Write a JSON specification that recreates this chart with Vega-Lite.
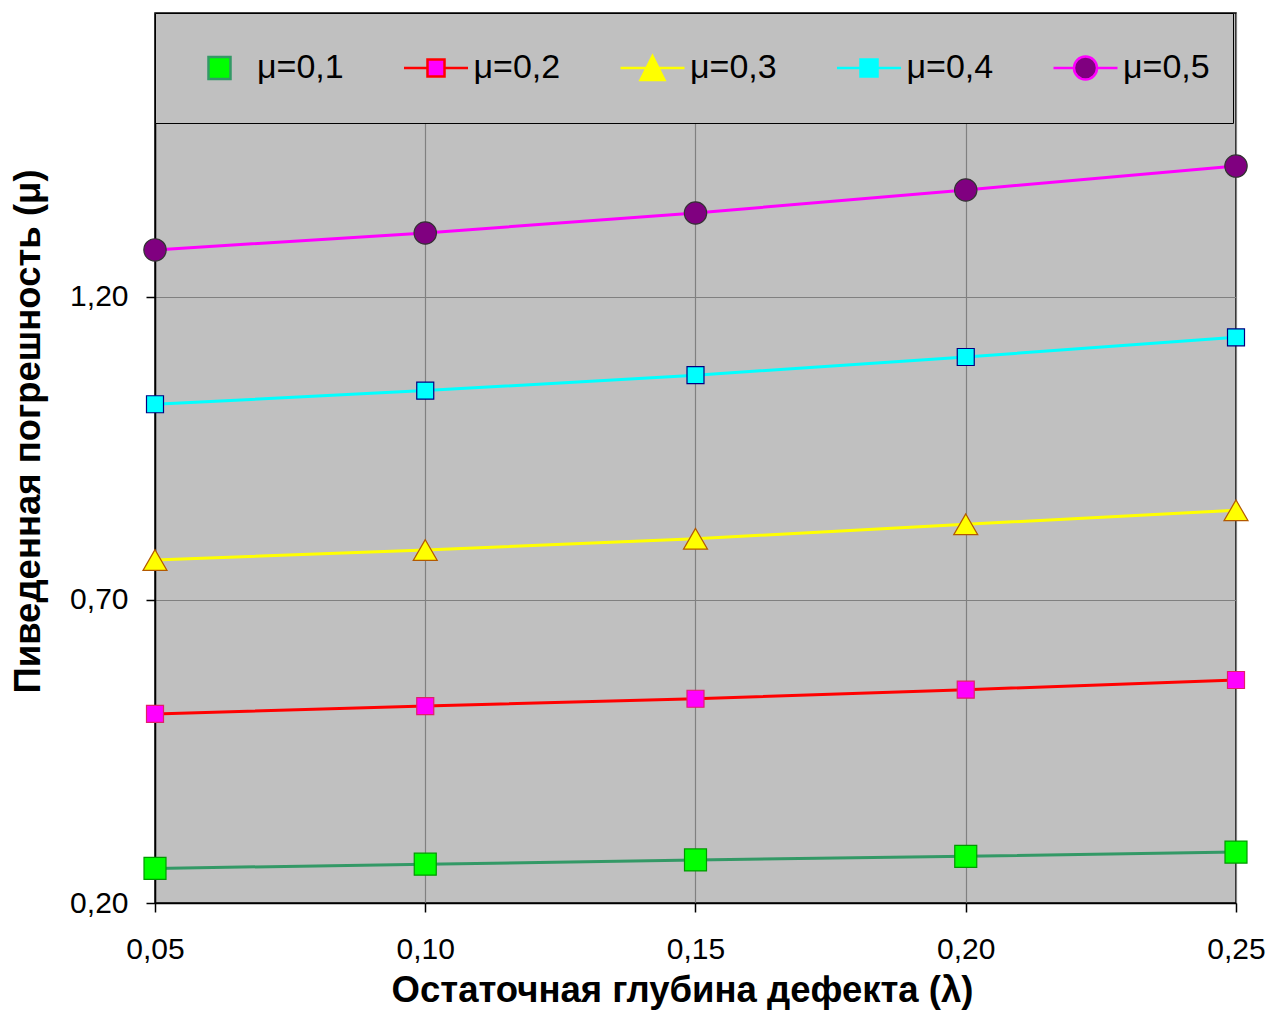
{
  "$schema": "https://vega.github.io/schema/vega-lite/v6.json",
  "width": 1081,
  "height": 890,
  "autosize": "none",
  "padding": {"left": 155, "top": 13, "right": 32, "bottom": 109},
  "background": "white",
  "config": {
    "font": "Liberation Sans",
    "view": {"fill": "#c0c0c0", "stroke": "black", "strokeWidth": 1.5}
  },
  "data": {
    "values": [
      {"lambda": 0.05, "mu": 0.257, "series": "μ=0,1"},
      {"lambda": 0.10, "mu": 0.264, "series": "μ=0,1"},
      {"lambda": 0.15, "mu": 0.271, "series": "μ=0,1"},
      {"lambda": 0.20, "mu": 0.277, "series": "μ=0,1"},
      {"lambda": 0.25, "mu": 0.284, "series": "μ=0,1"},
      {"lambda": 0.05, "mu": 0.512, "series": "μ=0,2"},
      {"lambda": 0.10, "mu": 0.525, "series": "μ=0,2"},
      {"lambda": 0.15, "mu": 0.537, "series": "μ=0,2"},
      {"lambda": 0.20, "mu": 0.552, "series": "μ=0,2"},
      {"lambda": 0.25, "mu": 0.568, "series": "μ=0,2"},
      {"lambda": 0.05, "mu": 0.766, "series": "μ=0,3"},
      {"lambda": 0.10, "mu": 0.7825, "series": "μ=0,3"},
      {"lambda": 0.15, "mu": 0.801, "series": "μ=0,3"},
      {"lambda": 0.20, "mu": 0.825, "series": "μ=0,3"},
      {"lambda": 0.25, "mu": 0.848, "series": "μ=0,3"},
      {"lambda": 0.05, "mu": 1.023, "series": "μ=0,4"},
      {"lambda": 0.10, "mu": 1.0455, "series": "μ=0,4"},
      {"lambda": 0.15, "mu": 1.071, "series": "μ=0,4"},
      {"lambda": 0.20, "mu": 1.101, "series": "μ=0,4"},
      {"lambda": 0.25, "mu": 1.1335, "series": "μ=0,4"},
      {"lambda": 0.05, "mu": 1.2776, "series": "μ=0,5"},
      {"lambda": 0.10, "mu": 1.3056, "series": "μ=0,5"},
      {"lambda": 0.15, "mu": 1.3386, "series": "μ=0,5"},
      {"lambda": 0.20, "mu": 1.3766, "series": "μ=0,5"},
      {"lambda": 0.25, "mu": 1.416, "series": "μ=0,5"}
    ]
  },
  "encoding": {
    "x": {
      "field": "lambda",
      "type": "quantitative",
      "scale": {"domain": [0.05, 0.25], "nice": false, "zero": false},
      "axis": {
        "values": [0.05, 0.1, 0.15, 0.2, 0.25],
        "labelExpr": "replace(format(datum.value, '.2f'), '.', ',')",
        "title": "Остаточная глубина дефекта (λ)",
        "titleFont": "Liberation Sans",
        "titleFontSize": 36.5,
        "titleFontWeight": "bold",
        "titleColor": "black",
        "titlePadding": 8,
        "titleX": 527,
        "labelFont": "Liberation Sans",
        "labelFontSize": 30,
        "labelColor": "black",
        "labelPadding": 22,
        "labelFlush": false,
        "labelOverlap": false,
        "tickSize": 9,
        "tickColor": "black",
        "tickWidth": 1.5,
        "domainColor": "black",
        "domainWidth": 1.5,
        "grid": true,
        "gridColor": "#808080",
        "gridWidth": 1.2
      }
    },
    "y": {
      "field": "mu",
      "type": "quantitative",
      "scale": {"domain": [0.2, 1.6686], "nice": false, "zero": false},
      "axis": {
        "values": [0.2, 0.7, 1.2],
        "labelExpr": "replace(format(datum.value, '.2f'), '.', ',')",
        "title": "Пиведенная погрешность (μ)",
        "titleFont": "Liberation Sans",
        "titleFontSize": 36.5,
        "titleFontWeight": "bold",
        "titleColor": "black",
        "titlePadding": 22,
        "titleY": 418,
        "labelFont": "Liberation Sans",
        "labelFontSize": 30,
        "labelColor": "black",
        "labelPadding": 18,
        "labelOverlap": false,
        "tickSize": 9,
        "tickColor": "black",
        "tickWidth": 1.5,
        "domainColor": "black",
        "domainWidth": 1.5,
        "grid": true,
        "gridColor": "#808080",
        "gridWidth": 1.2
      }
    }
  },
  "layer": [
    {
      "mark": {"type": "line", "strokeWidth": 3},
      "encoding": {
        "color": {
          "field": "series",
          "type": "nominal",
          "scale": {
            "domain": ["μ=0,1", "μ=0,2", "μ=0,3", "μ=0,4", "μ=0,5"],
            "range": ["#339966", "#ff0000", "#ffff00", "#00ffff", "#ff00ff"]
          },
          "legend": {
            "orient": "none",
            "legendX": 0,
            "legendY": 0,
            "direction": "horizontal",
            "title": null,
            "fillColor": "#c0c0c0",
            "strokeColor": "black",
            "padding": 23,
            "clipHeight": 64,
            "symbolSize": 4096,
            "symbolStrokeWidth": 2.5,
            "symbolOffset": 8,
            "symbolOpacity": 1,
            "columnPadding": 50.5,
            "labelFont": "Liberation Sans",
            "labelFontSize": 34,
            "labelColor": "black",
            "labelLimit": 0,
            "encode": {
              "symbols": {
                "update": {
                  "shape": {"signal": "datum.value === 'μ=0,1' ? 'M-0.344,-0.344H0.344V0.344H-0.344Z' : datum.value === 'μ=0,2' ? 'M-1,0H-0.266M0.266,0H1M-0.266,-0.266H0.266V0.266H-0.266Z' : datum.value === 'μ=0,3' ? 'M-1,0H-0.19M0.19,0H1M0,-0.375L0.375,0.375H-0.375Z' : datum.value === 'μ=0,4' ? 'M-1,0H-0.266M0.266,0H1M-0.266,-0.266H0.266V0.266H-0.266Z' : 'M-1,0H-0.36M0.36,0H1M-0.36,0A0.36,0.36,0,1,1,0.36,0A0.36,0.36,0,1,1,-0.36,0Z'"},
                  "stroke": {"signal": "datum.value === 'μ=0,1' ? '#009900' : datum.value === 'μ=0,2' ? '#ff0000' : datum.value === 'μ=0,3' ? '#ffff00' : datum.value === 'μ=0,4' ? '#00ffff' : '#ff00ff'"},
                  "fill": {"signal": "datum.value === 'μ=0,1' ? '#00ff00' : datum.value === 'μ=0,2' ? '#ff00ff' : datum.value === 'μ=0,3' ? '#ffff00' : datum.value === 'μ=0,4' ? '#00ffff' : '#800080'"},
                  "strokeWidth": {"value": 2.5},
                  "size": {"value": 4096},
                  "opacity": {"value": 1}
                }
              }
            }
          }
        },
        "strokeWidth": {
          "field": "series",
          "type": "nominal",
          "scale": {"type": "ordinal", "range": [3, 3, 3, 3, 2]},
          "legend": null
        }
      }
    },
    {
      "mark": {"type": "point", "filled": true, "opacity": 1, "strokeWidth": 1.2},
      "encoding": {
        "fill": {
          "field": "series",
          "type": "nominal",
          "scale": {"range": ["#00ff00", "#ff00ff", "#ffff00", "#00ffff", "#800080"]},
          "legend": null
        },
        "stroke": {
          "field": "series",
          "type": "nominal",
          "scale": {"range": ["#009900", "#e0206a", "#b35900", "#000080", "#333333"]},
          "legend": null
        },
        "shape": {
          "field": "series",
          "type": "nominal",
          "scale": {"range": ["square", "square", "triangle-up", "square", "circle"]},
          "legend": null
        },
        "size": {
          "field": "series",
          "type": "nominal",
          "scale": {"type": "ordinal", "range": [484, 289, 576, 289, 500]},
          "legend": null
        }
      }
    }
  ]
}
